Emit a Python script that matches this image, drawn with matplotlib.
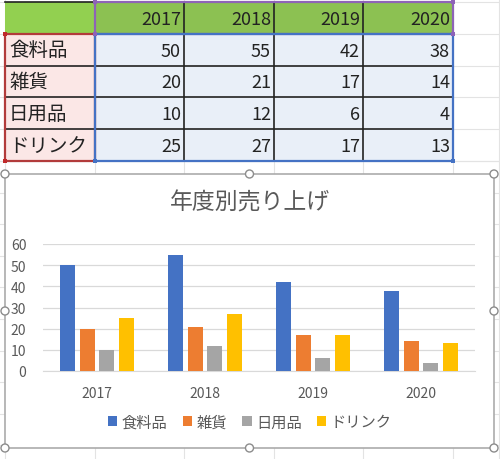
import matplotlib.pyplot as plt
import numpy as np
from matplotlib.patches import Rectangle, Circle

plt.rcParams['font.family'] = ['Noto Sans CJK JP', 'DejaVu Sans']

# ##### Data #####
years = ["2017", "2018", "2019", "2020"]
items = ["食料品", "雑貨", "日用品", "ドリンク"]
food = [50, 55, 42, 38]
goods = [20, 21, 17, 14]
daily = [10, 12, 6, 4]
drink = [25, 27, 17, 13]
series = [food, goods, daily, drink]
colors = ["#4472C4", "#ED7D31", "#A5A5A5", "#FFC000"]
title = "年度別売り上げ"

W, H = 500, 460
fig = plt.figure(figsize=(W/100, H/100), dpi=100)

# background axes in pixel coordinates (y goes down)
bg = fig.add_axes([0, 0, 1, 1])
bg.set_xlim(0, W)
bg.set_ylim(H, 0)
bg.axis("off")

# spreadsheet grid lines
col_x = [5, 95, 184, 274, 363, 453]
row_y = [3, 35, 67, 98, 130, 162]
grid_c = "#E3E3E3"
for x in col_x:
    bg.plot([x, x], [0, H], color=grid_c, lw=0.8, zorder=0)
bg.plot([499, 499], [0, H], color=grid_c, lw=0.8, zorder=0)
for y in row_y + list(np.arange(162, H, 31.6)):
    bg.plot([0, W], [y, y], color=grid_c, lw=0.8, zorder=0)

# ##### Table #####
# header row
bg.add_patch(Rectangle((col_x[0], row_y[0]), col_x[1]-col_x[0],
                       row_y[1]-row_y[0], fc="#92D050", ec="none", zorder=1))
for j in range(4):
    bg.add_patch(Rectangle((col_x[j+1], row_y[0]), col_x[j+2]-col_x[j+1],
                           row_y[1]-row_y[0], fc="#8CC152", ec="none",
                           zorder=1))
    bg.text(col_x[j+2]-3, (row_y[0]+row_y[1])/2+1, years[j], ha="right",
            va="center", fontsize=13, color="#222222", zorder=3)

# body rows
for i in range(4):
    y0, y1 = row_y[i+1], row_y[i+2]
    bg.add_patch(Rectangle((col_x[0], y0), col_x[1]-col_x[0], y1-y0,
                           fc="#FBE7E6", ec="none", zorder=1))
    bg.text(col_x[0]+4, (y0+y1)/2, items[i], ha="left", va="center",
            fontsize=14, color="#222222", zorder=3)
    for j in range(4):
        bg.add_patch(Rectangle((col_x[j+1], y0), col_x[j+2]-col_x[j+1],
                               y1-y0, fc="#E9EFF8", ec="none", zorder=1))
        bg.text(col_x[j+2]-3, (y0+y1)/2+1, str(series[i][j]), ha="right",
                va="center", fontsize=13, color="#222222", zorder=3)

# inner black borders
for x in col_x[1:-1]:
    bg.plot([x, x], [row_y[0], row_y[-1]], color="#222222", lw=1.2, zorder=2)
for y in row_y[1:-1]:
    bg.plot([col_x[0], col_x[-1]], [y, y], color="#222222", lw=1.2, zorder=2)
bg.plot([col_x[0], col_x[1]], [row_y[0], row_y[0]], color="#222222",
        lw=1.2, zorder=2)

# selection outlines
bg.add_patch(Rectangle((col_x[1], row_y[0]), col_x[-1]-col_x[1],
                       row_y[1]-row_y[0], fc="none", ec="#8E63B7", lw=1.6,
                       zorder=4))
bg.add_patch(Rectangle((col_x[0], row_y[1]), col_x[1]-col_x[0],
                       row_y[-1]-row_y[1], fc="none", ec="#B23B3B", lw=1.6,
                       zorder=4))
bg.add_patch(Rectangle((col_x[1], row_y[1]), col_x[-1]-col_x[1],
                       row_y[-1]-row_y[1], fc="none", ec="#4472C4", lw=1.6,
                       zorder=5))
for (x, y, c) in [(col_x[1], row_y[0], "#8E63B7"), (col_x[-1], row_y[0], "#8E63B7"),
                  (col_x[1], row_y[1], "#8E63B7"), (col_x[-1], row_y[1], "#8E63B7"),
                  (col_x[0], row_y[1], "#C0292B"), (col_x[0], row_y[-1], "#C0292B"),
                  (col_x[1], row_y[-1], "#4472C4"), (col_x[-1], row_y[-1], "#4472C4")]:
    bg.add_patch(Rectangle((x-2, y-2), 4, 4, fc=c, ec="none", zorder=6))

# ##### Chart frame #####
cx0, cy0, cx1, cy1 = 5, 175, 494, 449
bg.add_patch(Rectangle((cx0, cy0), cx1-cx0, cy1-cy0, fc="white",
                       ec="#ABABAB", lw=1.2, zorder=7))
for hx in [cx0, (cx0+cx1)/2, cx1]:
    for hy in [cy0, (cy0+cy1)/2, cy1]:
        if hx == (cx0+cx1)/2 and hy == (cy0+cy1)/2:
            continue
        bg.add_patch(Circle((hx, hy), 4, fc="white", ec="#8C8C8C", lw=1.0,
                            zorder=8))

bg.text((cx0+cx1)/2, 203, title, ha="center", va="center", fontsize=16.5,
        color="#595959", zorder=9)

# ##### Bar chart #####
ax = fig.add_axes([43/W, (H-372)/H, 432/W, 127/H])
ax.set_zorder(10)
ax.patch.set_visible(False)

x = np.arange(len(years))
width = 0.14
step = 0.182
for k, vals in enumerate(series):
    ax.bar(x + (k-1.5)*step, vals, width, color=colors[k], zorder=3)

ax.set_xlim(-0.5, 3.5)
ax.set_ylim(0, 60)
ax.set_yticks(range(0, 61, 10))
ax.set_xticks(x)
ax.set_xticklabels(years)
ax.grid(axis="y", color="#D9D9D9", lw=0.9, zorder=0)
for s in ["top", "right", "left"]:
    ax.spines[s].set_visible(False)
ax.spines["bottom"].set_color("#D9D9D9")
ax.tick_params(axis="both", length=0, colors="#595959", labelsize=10)
ax.tick_params(axis="y", pad=12)
ax.tick_params(axis="x", pad=11)

handles = [Rectangle((0, 0), 1, 1, fc=c, ec="none") for c in colors]
leg = fig.legend(handles, items, loc="center", ncol=4, frameon=False,
                 bbox_to_anchor=(250/W, (H-423)/H), fontsize=11,
                 handlelength=0.6, handleheight=0.6, handletextpad=0.3,
                 columnspacing=1.0, labelcolor="#595959")
leg.set_zorder(11)

plt.savefig("out.png", dpi=100)
plt.close()
